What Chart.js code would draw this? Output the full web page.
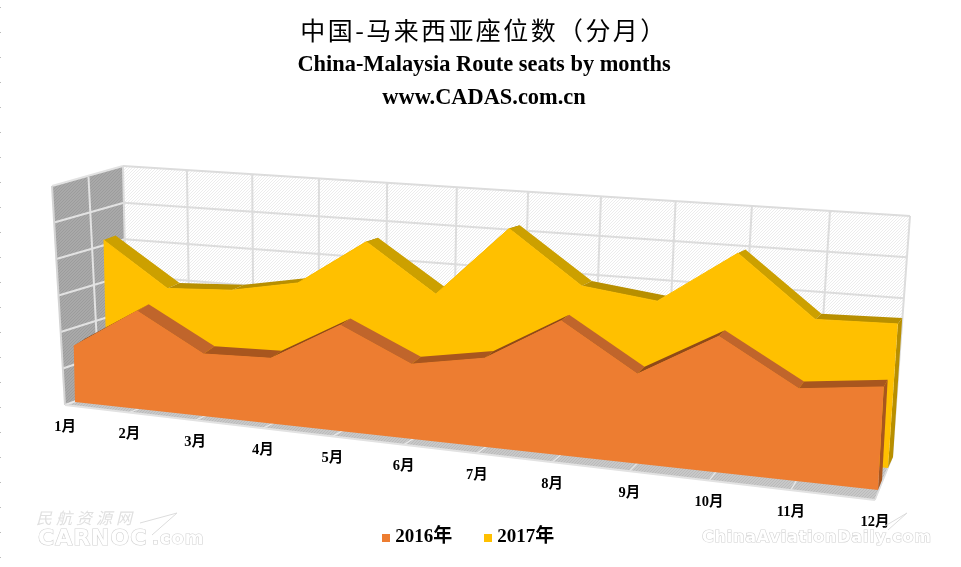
<!DOCTYPE html>
<html><head><meta charset="utf-8">
<style>html,body{margin:0;padding:0;background:#fff}canvas{display:block}</style>
<script src="https://cdn.jsdelivr.net/npm/chart.js@4"></script>
</head><body><canvas id="c" width="961" height="567"></canvas>
<script>
const months = ['1月','2月','3月','4月','5月','6月','7月','8月','9月','10月','11月','12月'];
const seats2016 = [155000,267000,168000,174000,278000,194000,227000,338000,223000,333000,224000,247000];
const seats2017 = [418000,298000,307000,340000,461000,338000,518000,386000,362000,493000,346000,350000];
const axisMax = 600000;
const axisStep = 100000;
const titleText = '中国-马来西亚座位数（分月）';
const subtitleLines = ['China-Malaysia Route seats by months','www.CADAS.com.cn'];

// view geometry of the 3-D box: each plane is given as [bottom-left, bottom-right, top-left, top-right]
function plane(bl,br,tl,tr){
  const dx1=br[0]-tr[0],dx2=tl[0]-tr[0],sx=bl[0]-br[0]+tr[0]-tl[0];
  const dy1=br[1]-tr[1],dy2=tl[1]-tr[1],sy=bl[1]-br[1]+tr[1]-tl[1];
  const det=dx1*dy2-dx2*dy1;
  const g=(sx*dy2-dx2*sy)/det,h=(dx1*sy-sx*dy1)/det;
  const a=br[0]-bl[0]+g*br[0],b=tl[0]-bl[0]+h*tl[0],c=bl[0];
  const d=br[1]-bl[1]+g*br[1],e=tl[1]-bl[1]+h*tl[1],f=bl[1];
  return (u,v)=>{const w=g*u+h*v+1;return [(a*u+b*v+c)/w,(d*u+e*v+f)/w];};
}
const wall   = plane([128,382],[892,458],[123,166],[910,216]);
const front  = plane([65,405],[875,500],[52,186],[888,248]);
const planes = [
  {front:plane([75,402],[878,490],[70,182],[892,236]), back:plane([87,393],[882,480],[82,178],[896,233]),
   face:'#ED7D31', fall:'#C0652B', flat:'#A8561E', rise:'#8F4A18', end:'#A8561E'},
  {front:plane([107,390],[888,468],[102,173],[905,218]), back:plane([119,382],[893,457],[114,170],[909,216]),
   face:'#FFC000', fall:'#CCA000', flat:'#B88F00', rise:'#8F6F00', end:'#B88F00'}
];

function hatch(ctx,bg,fg){
  const c=document.createElement('canvas');c.width=c.height=3;
  const x=c.getContext('2d');x.fillStyle=bg;x.fillRect(0,0,3,3);x.fillStyle=fg;
  for(let i=0;i<3;i++)x.fillRect(2-i,i,1,1);
  return ctx.createPattern(c,'repeat');
}
function marker(col){
  const c=document.createElement('canvas');c.width=c.height=8;
  const x=c.getContext('2d');x.fillStyle=col;x.fillRect(0,0,8,8);return c;
}
function poly(ctx,pts,fill){
  ctx.beginPath();pts.forEach((p,i)=>i?ctx.lineTo(p[0],p[1]):ctx.moveTo(p[0],p[1]));ctx.closePath();
  ctx.fillStyle=fill;ctx.fill();
}
function seg(ctx,a,b,col,w){ctx.beginPath();ctx.moveTo(a[0],a[1]);ctx.lineTo(b[0],b[1]);ctx.strokeStyle=col;ctx.lineWidth=w;ctx.stroke();}
function uv(chart,i,value){
  const xs=chart.scales.x,ys=chart.scales.y,A=chart.chartArea;
  return [(xs.getPixelForValue(i)-A.left)/(A.right-A.left),(A.bottom-ys.getPixelForValue(value))/(A.bottom-A.top)];
}

const box3d={
  id:'box3d',
  afterLayout(chart){
    const L=chart.legend;L.left-=14;L.right-=14;
    const tb=chart.titleBlock;
    if(tb&&!tb._spaced){tb._spaced=true;const d=tb.draw.bind(tb);tb.draw=function(){chart.ctx.letterSpacing='2.4px';d();chart.ctx.letterSpacing='0px';};}
  },
  afterDatasetsUpdate(chart){
    planes.forEach((pl,k)=>{
      const meta=chart.getDatasetMeta(k),vals=chart.data.datasets[k].data;
      meta.data.forEach((p,i)=>{const q=uv(chart,i,vals[i]),r=pl.front(q[0],q[1]);p.x=r[0];p.y=r[1];});
    });
  },
  beforeDatasetsDraw(chart){
    const ctx=chart.ctx,n=months.length-1;ctx.save();
    const ys=chart.scales.y,tk=ys.ticks.map(t=>(t.value-ys.min)/(ys.max-ys.min));
    ctx.setLineDash([1,24]);seg(ctx,[0.5,7],[0.5,567],'#bbbbbb',1);ctx.setLineDash([]);
    poly(ctx,[wall(0,0),wall(1,0),wall(1,1),wall(0,1)],hatch(ctx,'#ffffff','#ececec'));
    const sb=[65,405],st=[52,186];
    poly(ctx,[sb,wall(0,0),wall(0,1),st],hatch(ctx,'#a9a9a9','#9c9c9c'));
    poly(ctx,[front(0,0),front(1,0),wall(1,0),wall(0,0)],hatch(ctx,'#c8c8c8','#bababa'));
    tk.forEach(v=>{
      seg(ctx,wall(0,v),wall(1,v),'#dcdcdc',2);
      seg(ctx,[sb[0]+(st[0]-sb[0])*v,sb[1]+(st[1]-sb[1])*v],wall(0,v),'#e2e2e2',2);
    });
    for(let i=0;i<=n;i++){
      seg(ctx,wall(i/n,0),wall(i/n,1),'#dcdcdc',2);
      seg(ctx,front(i/n,0),wall(i/n,0),'#eaeaea',1.2);
    }
    const mb=[(sb[0]+wall(0,0)[0])/2+3,(sb[1]+wall(0,0)[1])/2],mt=[(st[0]+wall(0,1)[0])/2+1,(st[1]+wall(0,1)[1])/2+1];
    seg(ctx,mb,mt,'#e2e2e2',2);
    seg(ctx,sb,st,'#d4d4d4',2);
    seg(ctx,sb,front(1,0),'#e2e2e2',2);
    seg(ctx,front(1,0),wall(1,0),'#dddddd',1.2);
    ctx.fillStyle='#000';ctx.textAlign='center';ctx.textBaseline='middle';
    ctx.font='bold 14.5px "Liberation Serif","Noto Sans CJK SC"';
    chart.scales.x.getLabels().forEach((t,i)=>{const p=front(i/n,0);ctx.fillText(t,p[0],p[1]+22);});
    ctx.restore();
  },
  beforeDatasetDraw(chart,args){
    const k=args.index,pl=planes[k],ctx=chart.ctx,vals=chart.data.datasets[k].data,n=vals.length-1;
    const F=vals.map((v,i)=>{const q=uv(chart,i,v);return pl.front(q[0],q[1]);});
    const B=vals.map((v,i)=>{const q=uv(chart,i,v);return pl.back(q[0],q[1]);});
    ctx.save();
    for(let i=0;i<n;i++){
      const dv=(vals[i+1]-vals[i])/axisMax;
      const col=dv<-0.06?pl.fall:(dv>0.06?pl.rise:pl.flat);
      poly(ctx,[F[i],F[i+1],B[i+1],B[i]],col);
    }
    poly(ctx,[F[n],B[n],pl.back(1,0),pl.front(1,0)],pl.end);
    poly(ctx,[pl.front(0,0),...F,pl.front(1,0)],pl.face);
    ctx.restore();
  },
  afterDraw(chart){
    const ctx=chart.ctx;ctx.save();ctx.textBaseline='middle';ctx.textAlign='left';
    ctx.font='italic 16px "Noto Sans CJK SC"';ctx.fillStyle='#e0e0e0';
    ctx.letterSpacing='4px';ctx.fillText('民航资源网',36,518);
    ctx.font='bold 22px "DejaVu Sans"';ctx.letterSpacing='1px';ctx.lineWidth=1.2;ctx.strokeStyle='#d2d2d2';ctx.fillStyle='#ffffff';
    ctx.strokeText('CARNOC',38,539);ctx.fillText('CARNOC',38,539);
    ctx.font='bold 18px "DejaVu Sans"';ctx.strokeText('.com',152,539);ctx.fillText('.com',152,539);
    ctx.letterSpacing='0.8px';ctx.font='bold 16px "DejaVu Sans"';
    ctx.strokeText('ChinaAviationDaily.com',702,538);ctx.fillText('ChinaAviationDaily.com',702,538);
    ctx.letterSpacing='0px';
    seg(ctx,[140,523],[177,513],'#dcdcdc',1);seg(ctx,[177,513],[152,535],'#dcdcdc',1);
    seg(ctx,[885,526],[907,513],'#dcdcdc',1);seg(ctx,[907,513],[888,530],'#dcdcdc',1);
    ctx.restore();
  }
};

new Chart(document.getElementById('c'),{
  type:'line',
  plugins:[box3d],
  data:{labels:months,datasets:[
    {label:'2016年',data:seats2016,borderColor:'#ED7D31',backgroundColor:'#ED7D31',fill:false,pointRadius:0,pointStyle:marker('#ED7D31'),borderWidth:1,tension:0,clip:false},
    {label:'2017年',data:seats2017,borderColor:'#FFC000',backgroundColor:'#FFC000',fill:false,pointRadius:0,pointStyle:marker('#FFC000'),borderWidth:1,tension:0,clip:false}
  ]},
  options:{
    responsive:false,animation:false,
    layout:{padding:{left:7,right:0,top:0,bottom:10}},
    scales:{
      x:{display:false,offset:false},
      y:{display:false,min:0,max:axisMax,ticks:{stepSize:axisStep}}
    },
    plugins:{
      tooltip:{enabled:false},
      title:{display:true,text:titleText,color:'#000',font:{family:'"Noto Sans CJK SC"',size:25,weight:'normal'},padding:{top:15,bottom:0}},
      subtitle:{display:true,text:subtitleLines,color:'#000',font:{family:'"Liberation Serif"',size:22.4,weight:'bold',lineHeight:1.47},padding:{top:4,bottom:0}},
      legend:{position:'bottom',labels:{usePointStyle:true,pointStyleWidth:0.01,boxHeight:8,padding:35.5,color:'#000',font:{family:'"Liberation Serif","Noto Sans CJK SC"',size:19,weight:'bold'}}}
    }
  }
});
</script></body></html>
